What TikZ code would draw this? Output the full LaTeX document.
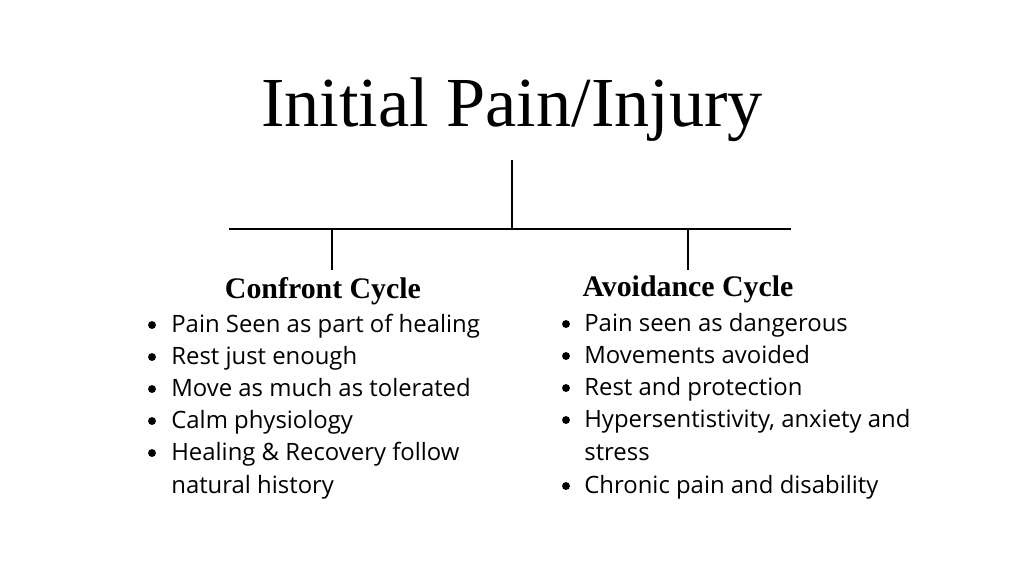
\documentclass[tikz,border=0pt]{standalone}
\usepackage{fontspec}
\setmainfont{Liberation Serif}
\newfontfamily\bodyfont{Open Sans}
\usetikzlibrary{positioning}
\begin{document}
\begin{tikzpicture}[x=0.02cm,y=-0.02cm]
    \tikzstyle{item}=[anchor=base west, inner sep=0pt, font=\bodyfont\fontsize{13.6}{16}\selectfont]
    \tikzstyle{dot}=[circle, fill=black, inner sep=0pt, minimum size=4.5pt]
    \tikzstyle{head}=[inner sep=0pt, font=\bfseries\fontsize{17}{20}\selectfont]
    \useasboundingbox (0,0) rectangle (1024,576);

    % Title and tree
    \node[inner sep=0pt, font=\fontsize{40}{46}\selectfont] (title) at (512,110) {Initial Pain/Injury};
    \coordinate (top) at (512,160);
    \coordinate (mid) at (512,229);
    \coordinate (hl) at (229,229);
    \coordinate (hr) at (791,229);
    \coordinate (jl) at (332,229);
    \coordinate (jr) at (688,229);
    \coordinate (el) at (332,270);
    \coordinate (er) at (688,270);
    \draw[line width=1.2pt] (top) -- (mid);
    \draw[line width=1.2pt] (hl) -- (hr);
    \draw[line width=1.2pt] (jl) -- (el);
    \draw[line width=1.2pt] (jr) -- (er);

    % Confront Cycle
    \node[head] (ch) at (323,291) {Confront Cycle};
    \foreach \n/\y/\t in {1/325/Pain Seen as part of healing, 2/357/Rest just enough,
        3/389/Move as much as tolerated, 4/421/Calm physiology,
        5/453/Healing \& Recovery follow} {
      \node[dot] (cb\n) at (152,\y) {};
      \node[item] (ct\n) at (171,\y+7) {\t};
    }
    \node[item] (ct6) at (171,493) {natural history};

    % Avoidance Cycle
    \node[head] (ah) at (688,289) {Avoidance Cycle};
    \foreach \n/\y/\t in {1/324/Pain seen as dangerous, 2/356/Movements avoided,
        3/388/Rest and protection, 4/420/{Hypersentistivity, anxiety and},
        6/486/Chronic pain and disability} {
      \node[dot] (ab\n) at (566,\y) {};
      \node[item] (at\n) at (584,\y+7) {\t};
    }
    \node[item] (at5) at (584,460) {stress};
\end{tikzpicture}
\end{document}
